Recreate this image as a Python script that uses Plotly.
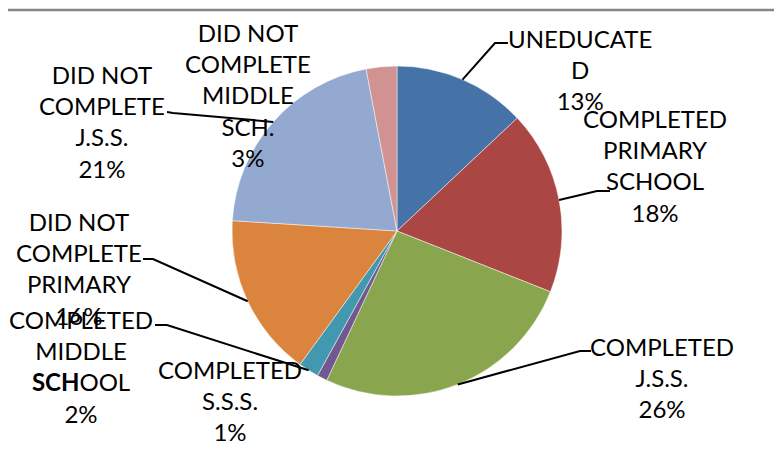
import math
import plotly.graph_objects as go

# ---- data ----
categories = ["UNEDUCATED", "COMPLETED PRIMARY SCHOOL", "COMPLETED J.S.S.",
              "COMPLETED S.S.S.", "COMPLETED MIDDLE SCHOOL",
              "DID NOT COMPLETE PRIMARY", "DID NOT COMPLETE J.S.S.",
              "DID NOT COMPLETE MIDDLE SCH."]
values = [13, 18, 26, 1, 2, 16, 21, 3]
wrapped_labels = ["UNEDUCATE<br>D", "COMPLETED<br>PRIMARY<br>SCHOOL",
                  "COMPLETED<br>J.S.S.", "COMPLETED<br>S.S.S.",
                  "COMPLETED<br>MIDDLE<br><b>SCH</b>OOL",
                  "DID NOT<br>COMPLETE<br>PRIMARY",
                  "DID NOT<br>COMPLETE<br>J.S.S.",
                  "DID NOT<br>COMPLETE<br>MIDDLE<br>SCH."]
colors = ["#4572A7", "#AA4643", "#89A54E", "#71588F",
          "#4198AF", "#DB843D", "#93A9CF", "#D19392"]

# ---- layout constants (screen pixels) ----
W, H = 782, 449
PAGE_MARGIN = 8  # browser body margin around the plot div
CX, CY, R = 397, 231, 165
label_pos = [(580, 69), (655, 166), (662, 377), (230, 400),
             (81, 366), (79, 268), (102, 122), (248, 95)]
# leader: (elbow, end) or None
leaders = [((495, 43), (508, 43)), ((597, 191), (610, 191)),
           ((580, 351), (591, 351)), None,
           ((167, 325), (155, 325)), ((153, 259), (143, 259)),
           ((173, 113), (167, 112)), None]

px = lambda x: (x - PAGE_MARGIN) / W
py = lambda y: 1 - (y - PAGE_MARGIN) / H

fig = go.Figure(go.Pie(
    labels=categories, values=values, sort=False, direction="clockwise",
    rotation=0, textinfo="none", hoverinfo="label+percent",
    marker=dict(colors=colors, line=dict(color="rgba(255,255,255,0.6)", width=0.8)),
    domain=dict(x=[px(CX - R), px(CX + R)], y=[py(CY + R), py(CY - R)]),
))

total = sum(values)
annotations = []
shapes = []
cum = 0
for i, v in enumerate(values):
    mid = (cum + v / 2) / total * 2 * math.pi
    cum += v
    sx = CX + R * math.sin(mid)
    sy = CY - R * math.cos(mid)
    pct = round(v / total * 100)
    lx, ly = label_pos[i]
    annotations.append(dict(
        x=px(lx), y=py(ly), xref="paper", yref="paper",
        text=f"{wrapped_labels[i]}<br>{pct}%", showarrow=False,
        xanchor="center", yanchor="middle", align="center",
        font=dict(family="Lato", size=24, color="#000000")))
    if leaders[i]:
        (ex, ey), (tx, ty) = leaders[i]
        shapes.append(dict(type="path", xref="paper", yref="paper",
                           path=f"M {px(sx)} {py(sy)} L {px(ex)} {py(ey)} L {px(tx)} {py(ty)}",
                           line=dict(color="#000000", width=2)))

# chart frame
shapes.append(dict(type="line", xref="paper", yref="paper",
                   x0=px(5), y0=py(10), x1=px(5), y1=py(470),
                   line=dict(color="#868686", width=2.5)))
shapes.append(dict(type="line", xref="paper", yref="paper",
                   x0=px(5), y0=py(10), x1=px(800), y1=py(10),
                   line=dict(color="#868686", width=2.5)))

fig.update_layout(width=W, height=H, margin=dict(l=0, r=0, t=0, b=0),
                  paper_bgcolor="white", plot_bgcolor="white",
                  showlegend=False, annotations=annotations, shapes=shapes)
fig.write_html("out.html")
